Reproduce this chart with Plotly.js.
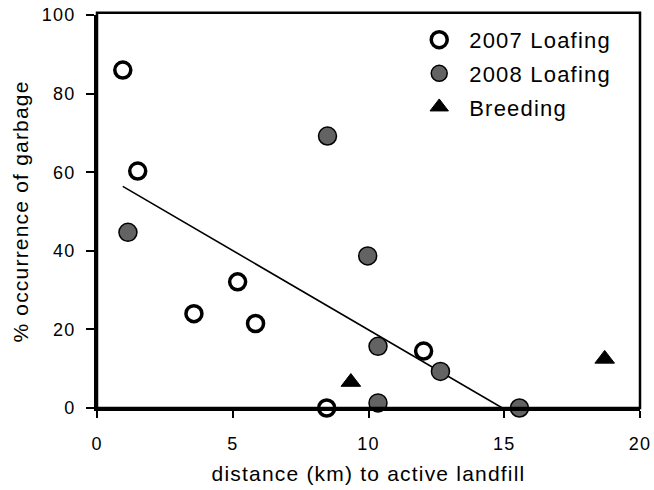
<!DOCTYPE html>
<html>
<head>
<meta charset="utf-8">
<script src="https://cdn.plot.ly/plotly-3.0.1.min.js"></script>
<style>
html,body{margin:0;padding:0;background:#fff;}
#chart{width:654px;height:490px;}
svg text{letter-spacing:1.2px !important;}
</style>
</head>
<body>
<div id="chart"></div>
<script>
// 2007 Loafing (open circles)
const x2007 = [0.95, 1.50, 3.57, 5.18, 5.84, 8.46, 12.03];
const y2007 = [86.0, 60.3, 24.0, 32.1, 21.5, 0.0, 14.5];
// 2008 Loafing (grey filled circles)
const x2008 = [1.14, 8.49, 9.97, 10.35, 10.35, 12.65, 15.56];
const y2008 = [44.7, 69.2, 38.7, 15.7, 1.3, 9.3, 0.0];
// Breeding (triangles)
const xBreed = [9.35, 18.70];
const yBreed = [6.6, 12.5];
// Trend line
const xTrend = [0.95, 14.93];
const yTrend = [56.4, 0.0];
// Axis ticks
const xTicks = [0, 5, 10, 15, 20];
const yTicks = [0, 20, 40, 60, 80, 100];

const FONT = 'Liberation Sans, Arial, sans-serif';

const traces = [
  {x: xTrend, y: yTrend, mode: 'lines', line: {color: '#000', width: 1.6}, showlegend: false, hoverinfo: 'skip', cliponaxis: false},
  {x: x2007, y: y2007, mode: 'markers', name: '2007 Loafing', legendgroup: 'a', cliponaxis: false,
   marker: {symbol: 'circle', size: 16, color: '#fff', line: {color: '#000', width: 3.5}}},
  {x: x2008, y: y2008, mode: 'markers', name: '2008 Loafing', legendgroup: 'b', cliponaxis: false,
   marker: {symbol: 'circle', size: 18, color: '#636363', line: {color: '#000', width: 1.5}}},
  {x: xBreed, y: yBreed, mode: 'markers', name: 'Breeding', legendgroup: 'c', cliponaxis: false,
   marker: {symbol: 'triangle-up', size: 17, color: '#000', line: {color: '#000', width: 1}}}
];

const layout = {
  width: 654, height: 490,
  margin: {l: 97, r: 14, t: 15, b: 82},
  paper_bgcolor: '#fff', plot_bgcolor: '#fff',
  font: {family: FONT, color: '#000'},
  showlegend: true,
  legend: {x: 0.575, y: 0.99, xanchor: 'left', yanchor: 'top', bgcolor: 'rgba(0,0,0,0)',
           font: {size: 22, family: FONT}, tracegroupgap: 2, itemwidth: 50, itemsizing: 'trace'},
  xaxis: {range: [0, 20], tickvals: xTicks, ticktext: xTicks.map(String),
          showgrid: false, zeroline: false, showline: true, linecolor: '#000', linewidth: 3,
          ticks: 'outside', ticklen: 7, tickwidth: 2, tickcolor: '#000', ticklabelstandoff: 10,
          tickfont: {size: 18, family: FONT},
          title: {text: 'distance (km) to active landfill', font: {size: 21, family: FONT}, standoff: 14}},
  yaxis: {range: [0, 100], tickvals: yTicks, ticktext: yTicks.map(String),
          showgrid: false, zeroline: false, showline: true, linecolor: '#000', linewidth: 3,
          ticks: 'outside', ticklen: 8, tickwidth: 2, tickcolor: '#000', ticklabelstandoff: 7,
          tickfont: {size: 18, family: FONT},
          title: {text: '% occurrence of garbage', font: {size: 21, family: FONT}, standoff: 8}},
  shapes: [{type: 'rect', xref: 'paper', yref: 'paper', x0: 0, x1: 1, y0: 0, y1: 1.006,
            line: {color: '#000', width: 2.5}, fillcolor: 'rgba(0,0,0,0)', layer: 'above'}]
};

Plotly.newPlot('chart', traces, layout, {displayModeBar: false, staticPlot: true});
</script>
</body>
</html>
